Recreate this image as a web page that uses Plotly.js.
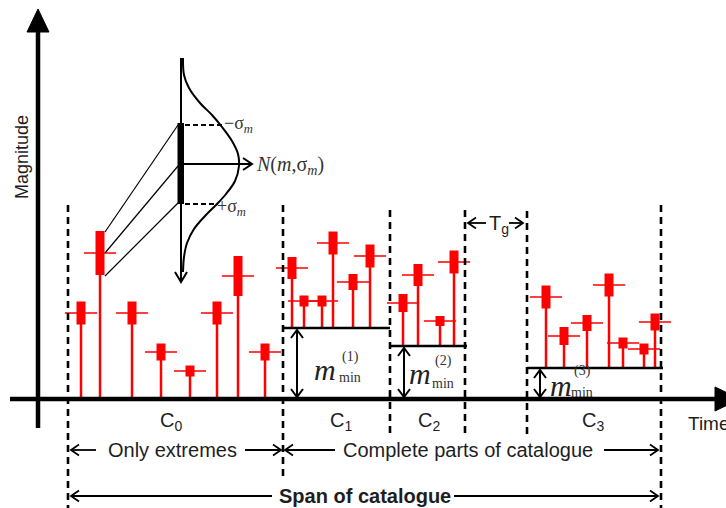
<!DOCTYPE html>
<html><head><meta charset="utf-8">
<script src="https://cdn.plot.ly/plotly-3.0.1.min.js"></script>
<style>html,body{margin:0;padding:0;background:#fff;overflow:hidden}#chart{width:726px;height:508px}</style>
</head><body><div id="chart"></div>
<script>
// ---------------- data ----------------
const segBounds   = [68, 283, 390, 465, 527, 661];      // time positions of segment borders
const segLabels   = ['C<sub>0</sub>', 'C<sub>1</sub>', 'C<sub>2</sub>', 'C<sub>3</sub>'];
const segLabelPos = [171, 341, 429, 593];
const mminLevels  = [71, 53, 31];                        // completeness magnitude of C1, C2, C3
const mminLabels  = ['(1)', '(2)', '(3)'];

const timesC0 = [81, 100, 132, 161, 190, 217, 238, 265];
const magsC0  = [86, 146, 86, 47, 28, 86, 123, 47];
const sigC0   = [11.5, 22, 11.5, 8.5, 5.5, 11.5, 20, 8.5];

const timesC1 = [292, 304, 322, 333, 353, 370];
const magsC1  = [131, 98, 98, 156, 117, 143];
const sigC1   = [11, 5.5, 5.5, 11.5, 8, 11.5];

const timesC2 = [403, 418, 440, 454];
const magsC2  = [96, 124, 78, 137];
const sigC2   = [9, 11, 5, 11.5];

const timesC3 = [546, 564, 587, 609, 623, 644, 655];
const magsC3  = [102, 63, 76, 114, 56, 50, 77];
const sigC3   = [11.5, 9, 8, 11.5, 5.5, 5.5, 8.5];

// ---------------- helpers ----------------
const RED = '#ff0000', INK = '#1e1e1e';
const AXIS_ROW = 399;                 // layout helper: screen row of the time axis
const Y = py => AXIS_ROW - py;

function ln(x0, py0, x1, py1, w, color, dash) {
  return {type: 'line', xref: 'x', yref: 'y', x0: x0, y0: Y(py0), x1: x1, y1: Y(py1),
          line: {color: color || '#000', width: w, dash: dash || 'solid'}};
}
function poly(pts, w, fill) {
  const d = pts.map((p, i) => (i ? 'L' : 'M') + p[0] + ',' + Y(p[1])).join(' ') + (fill ? ' Z' : '');
  return {type: 'path', xref: 'x', yref: 'y', path: d,
          line: {color: '#000', width: w}, fillcolor: fill ? '#000' : 'rgba(0,0,0,0)'};
}
// open chevron head: dir = 'l','r','u','d'
function chev(x, py, dir, L, H, w) {
  L = L || 8; H = H || 5.5; w = w || 1.8;
  let pts;
  if (dir === 'l') pts = [[x + L, py - H], [x, py], [x + L, py + H]];
  if (dir === 'r') pts = [[x - L, py - H], [x, py], [x - L, py + H]];
  if (dir === 'u') pts = [[x - H, py + L], [x, py], [x + H, py + L]];
  if (dir === 'd') pts = [[x - H, py - L], [x, py], [x + H, py - L]];
  return poly(pts, w, false);
}
function txt(x, py, text, size, opts) {
  opts = opts || {};
  return Object.assign({xref: 'x', yref: 'y', x: x, y: Y(py), text: text, showarrow: false,
    xanchor: opts.xa || 'center', yanchor: 'middle',
    font: {family: opts.family || 'Liberation Sans, Arial, sans-serif', size: size, color: opts.color || INK}},
    opts.extra || {});
}

// ---------------- traces ----------------
const segments = [
  {t: timesC0, m: magsC0, s: sigC0, base: 0},
  {t: timesC1, m: magsC1, s: sigC1, base: mminLevels[0]},
  {t: timesC2, m: magsC2, s: sigC2, base: mminLevels[1]},
  {t: timesC3, m: magsC3, s: sigC3, base: mminLevels[2]}
];
const traces = [];
segments.forEach(seg => {
  const sx = [], sy = [];
  seg.t.forEach((t, i) => { sx.push(t, t, null); sy.push(seg.base, seg.m[i], null); });
  traces.push({type: 'scatter', mode: 'lines', x: sx, y: sy, line: {color: RED, width: 2.5},
               hoverinfo: 'skip', showlegend: false});
  traces.push({type: 'scatter', mode: 'markers', x: seg.t, y: seg.m,
               marker: {symbol: 'line-ew', size: 23, color: RED, line: {color: RED, width: 1.6}},
               error_y: {type: 'data', array: seg.s, visible: true, color: RED, thickness: 9, width: 0},
               hoverinfo: 'skip', showlegend: false});
});

// Gaussian sketch (illustration outline)
const gaussX  = [183, 184, 189, 200, 212, 222, 232, 238, 239, 235, 226, 217, 205, 194, 187, 184, 183];
const gaussPy = [58, 75, 88, 103, 115, 127, 141, 154, 166, 181, 194, 204, 216, 229, 243, 257, 272];
traces.push({type: 'scatter', mode: 'lines', x: gaussX, y: gaussPy.map(Y),
             line: {color: '#000', width: 2, shape: 'spline', smoothing: 1}, hoverinfo: 'skip', showlegend: false});

// ---------------- shapes ----------------
const shapes = [];
// axes
shapes.push(ln(10, 399, 716, 399, 4.5));
shapes.push(poly([[715, 387], [740, 399], [715, 411]], 1, true));
shapes.push(ln(38, 428, 38, 31, 4.5));
shapes.push(poly([[27, 32], [38, 9], [49, 32]], 1, true));

// dashed segment borders
const dashTop = [205, 205, 210, 210, 211, 205];
const dashBot = [508, 478, 435, 435, 435, 508];
segBounds.forEach((b, i) => shapes.push(ln(b, dashTop[i], b, dashBot[i], 2.6, '#000', '7px,5px')));

// completeness thresholds
const thrSpan = [[282, 390], [390, 467], [527, 663]];
mminLevels.forEach((m, i) => shapes.push({type: 'line', xref: 'x', yref: 'y',
  x0: thrSpan[i][0], x1: thrSpan[i][1], y0: m, y1: m, line: {color: '#000', width: 2.6}}));

// m_min double arrows
const mArrowX = [297, 404, 540];
mminLevels.forEach((m, i) => {
  const top = AXIS_ROW - m + 2, bot = 397;
  shapes.push(ln(mArrowX[i], top, mArrowX[i], bot, 2));
  shapes.push(chev(mArrowX[i], top, 'u', 8, 6, 2));
  shapes.push(chev(mArrowX[i], bot, 'd', 8, 6, 2));
});

// Tg arrows
shapes.push(ln(468, 223, 486, 223, 1.8)); shapes.push(chev(468, 223, 'l'));
shapes.push(ln(509, 223, 523, 223, 1.8)); shapes.push(chev(523, 223, 'r'));

// bottom range arrows
shapes.push(ln(71, 450, 96, 450, 1.8)); shapes.push(chev(71, 450, 'l'));
shapes.push(ln(245, 450, 281, 450, 1.8)); shapes.push(chev(281, 450, 'r'));
shapes.push(ln(285, 450, 335, 450, 1.8)); shapes.push(chev(285, 450, 'l'));
shapes.push(ln(604, 450, 658, 450, 1.8)); shapes.push(chev(658, 450, 'r'));
shapes.push(ln(71, 496, 272, 496, 1.8)); shapes.push(chev(71, 496, 'l'));
shapes.push(ln(454, 496, 658, 496, 1.8)); shapes.push(chev(658, 496, 'r'));

// Gaussian inset
shapes.push(ln(181, 58, 181, 281, 2));
shapes.push(chev(181, 282, 'd', 10, 6, 2));
shapes.push({type: 'rect', xref: 'x', yref: 'y', x0: 177.5, x1: 184, y0: Y(123), y1: Y(204),
             fillcolor: '#000', line: {width: 0}});
shapes.push(ln(185, 125, 222, 125, 2, '#000', '5px,3px'));
shapes.push(ln(185, 204, 218, 204, 2, '#000', '5px,3px'));
shapes.push(ln(184, 164, 251, 164, 2));
shapes.push(chev(252, 164, 'r', 9, 6, 2));
// links from the event box to the distribution bar
shapes.push(ln(105, 232, 178, 125, 1.2));
shapes.push(ln(105, 253, 178, 166, 1.2));
shapes.push(ln(105, 276, 178, 203, 1.2));

// ---------------- annotations ----------------
const SERIF = 'Liberation Serif, Times New Roman, serif';
const ann = [];
ann.push(txt(22, 157, 'Magnitude', 18, {extra: {textangle: -90}}));
ann.push(txt(686, 423, 'Time', 19, {xa: 'left'}));
segLabels.forEach((s, i) => ann.push(txt(segLabelPos[i], 421, s, 20)));
ann.push(txt(172, 450, 'Only extremes', 20));
ann.push(txt(468, 450, 'Complete parts of catalogue', 20));
ann.push(txt(365, 496, '<b>Span of catalogue</b>', 20));
ann.push(txt(499, 224, 'T<sub>g</sub>', 20));
ann.push(txt(222, 124, '−σ<sub><i>m</i></sub>', 18, {xa: 'left', family: SERIF, color: '#333'}));
ann.push(txt(215, 207, '+σ<sub><i>m</i></sub>', 18, {xa: 'left', family: SERIF, color: '#333'}));
ann.push(txt(254, 165, '<i>N</i>(<i>m</i>,σ<sub><i>m</i></sub>)', 20, {xa: 'left', family: SERIF, color: '#333'}));
const mLabX  = [[325, 350], [420, 443], [561, 582]];
const mLabPy = [[369, 357, 377], [373, 361, 383], [385, 371, 392]];
mminLabels.forEach((s, i) => {
  ann.push(txt(mLabX[i][0], mLabPy[i][0], '<i>m</i>', 30, {family: SERIF, color: '#222'}));
  ann.push(txt(mLabX[i][1], mLabPy[i][1], s, 14, {family: SERIF, color: '#333'}));
  ann.push(txt(mLabX[i][1], mLabPy[i][2], 'min', 14, {family: SERIF, color: '#333'}));
});

const layout = {
  width: 726, height: 508, margin: {l: 0, r: 0, t: 0, b: 0},
  paper_bgcolor: '#fff', plot_bgcolor: '#fff', showlegend: false,
  xaxis: {range: [0, 726], visible: false, fixedrange: true},
  yaxis: {range: [Y(508), Y(0)], visible: false, fixedrange: true},
  shapes: shapes, annotations: ann
};
Plotly.newPlot('chart', traces, layout, {staticPlot: true, displayModeBar: false});
</script></body></html>
